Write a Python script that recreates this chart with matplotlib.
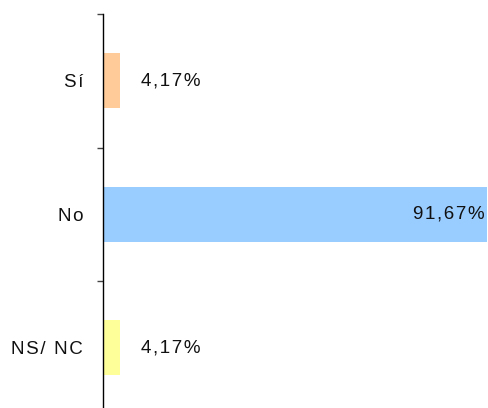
import matplotlib.pyplot as plt

categories = ['Sí', 'No', 'NS/ NC']
values = [4.17, 91.67, 4.17]
labels = ['4,17%', '91,67%', '4,17%']
colors = ['#FFCC99', '#99CCFF', '#FFFF99']

plt.rcParams['font.family'] = ['Liberation Sans', 'DejaVu Sans']


def spaced(s):
    # the reference text is drawn with a little letter spacing
    return '\u200a'.join(s)


fig = plt.figure(figsize=(4.88, 4.08), dpi=100)
ax = fig.add_axes([102.5 / 488, 1 - 414.5 / 408, 1 - 102.5 / 488, 400.5 / 408])

pos = list(range(len(categories)))
ax.barh(pos, values, height=0.41, color=colors, edgecolor='none')

for i in pos:
    if values[i] > 50:
        ax.text(values[i] - 0.6, i, spaced(labels[i]), ha='right', va='center',
                fontsize=13.5, color='#111111')
    else:
        ax.text(values[i] + 5, i, spaced(labels[i]), ha='left', va='center',
                fontsize=13.5, color='#111111')

ax.set_xlim(0, 91.8)
ax.set_ylim(2.5, -0.5)

ax.set_yticks([-0.5, 0.5, 1.5, 2.5])
ax.set_yticklabels([])
ax.set_yticks(pos, minor=True)
ax.set_yticklabels([spaced(c) for c in categories], minor=True, fontsize=13.5, color='#111111')
ax.tick_params(axis='y', which='major', length=4.5, width=1, color='#444444')
ax.tick_params(axis='y', which='minor', length=0, pad=14)
ax.set_xticks([])

for s in ['top', 'right', 'bottom']:
    ax.spines[s].set_visible(False)
ax.spines['left'].set_color('black')
ax.spines['left'].set_linewidth(1)

fig.savefig('out.png', dpi=100)
